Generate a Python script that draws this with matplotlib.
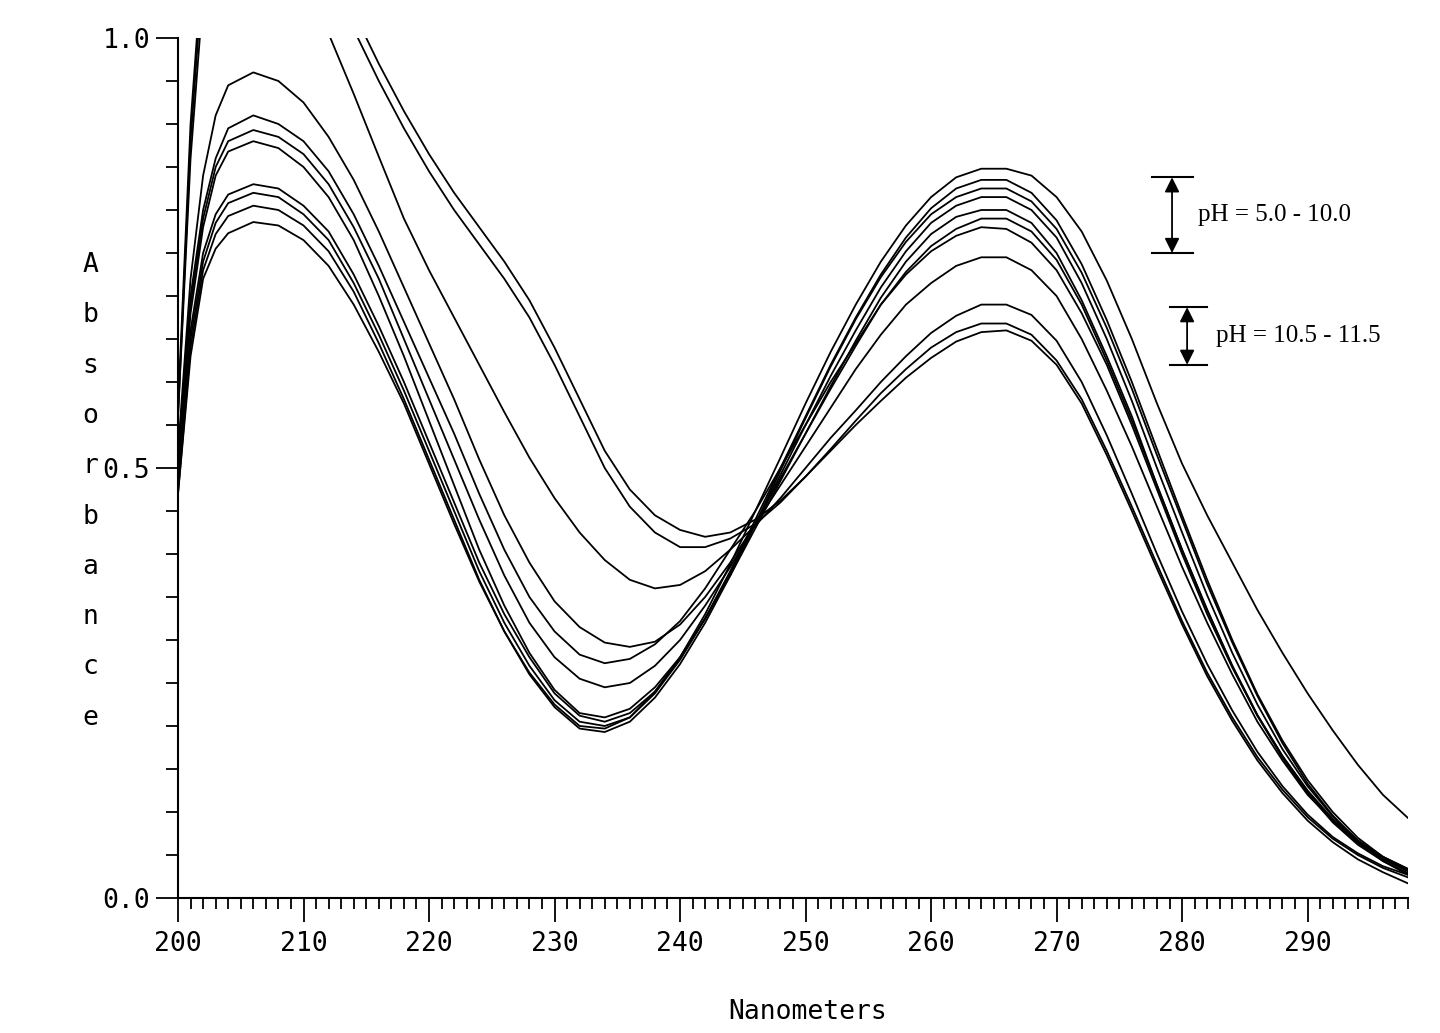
import matplotlib
matplotlib.use("Agg")
import matplotlib.pyplot as plt
from matplotlib.ticker import MultipleLocator

# ---------------- data ----------------
wavelength = [200, 201, 202, 203, 204, 206, 208, 210, 212, 214, 216, 218, 220, 222, 224,
              226, 228, 230, 232, 234, 236, 238, 240, 242, 244, 246, 248, 250, 252, 254,
              256, 258, 260, 262, 264, 266, 268, 270, 272, 274, 276, 278, 280, 282, 284,
              286, 288, 290, 292, 294, 296, 298]

# pH 5.0 - 10.0 group
curve_a1 = [.52, .72, .84, .91, .945, .96, .95, .925, .885, .835, .775, .71, .645, .58, .51,
            .445, .39, .345, .315, .297, .292, .298, .318, .35, .39, .435, .48, .525, .57, .615,
            .655, .69, .715, .735, .745, .745, .73, .70, .65, .59, .525, .455, .385, .32, .26,
            .205, .16, .12, .09, .065, .047, .033]
curve_a2 = [.51, .70, .80, .86, .895, .91, .90, .88, .845, .795, .735, .67, .605, .54, .47,
            .405, .35, .31, .283, .273, .278, .295, .322, .36, .405, .45, .50, .55, .60, .645,
            .69, .725, .752, .77, .78, .778, .762, .73, .68, .62, .55, .475, .40, .33, .268,
            .212, .165, .125, .092, .067, .048, .034]
curve_a3 = [.50, .69, .79, .85, .88, .893, .885, .865, .83, .78, .72, .65, .58, .51, .44,
            .375, .32, .28, .255, .245, .25, .27, .30, .34, .385, .435, .488, .54, .592, .642,
            .69, .728, .758, .778, .79, .79, .775, .742, .69, .625, .555, .48, .405, .335, .27,
            .213, .165, .124, .09, .064, .045, .031]
curve_a4 = [.49, .68, .78, .84, .868, .88, .872, .85, .815, .765, .70, .63, .555, .48, .405,
            .34, .285, .242, .215, .21, .22, .245, .28, .325, .375, .43, .485, .54, .595, .648,
            .698, .74, .772, .792, .80, .80, .785, .75, .695, .63, .56, .48, .405, .335, .27,
            .212, .163, .122, .088, .062, .043, .029]
curve_a5 = [.48, .66, .75, .795, .818, .83, .825, .805, .775, .725, .665, .60, .53, .46, .39,
            .33, .28, .238, .212, .205, .215, .24, .278, .325, .378, .435, .492, .55, .607, .66,
            .71, .752, .785, .805, .815, .815, .80, .768, .715, .65, .578, .50, .425, .352, .285,
            .225, .173, .13, .095, .067, .046, .032]
curve_a6 = [.48, .65, .74, .785, .808, .82, .815, .795, .765, .715, .655, .59, .52, .45, .38,
            .32, .27, .23, .205, .20, .21, .238, .277, .325, .38, .44, .50, .56, .62, .675,
            .725, .768, .802, .825, .835, .835, .82, .788, .737, .672, .60, .522, .445, .37, .30,
            .237, .183, .137, .10, .07, .048, .033]
curve_a7 = [.47, .64, .73, .772, .793, .805, .80, .782, .752, .705, .645, .58, .51, .44, .37,
            .31, .262, .225, .20, .197, .21, .24, .28, .33, .388, .45, .512, .575, .635, .69,
            .74, .782, .815, .838, .848, .848, .84, .815, .775, .718, .65, .575, .505, .445, .39,
            .335, .285, .238, .195, .155, .12, .093]
curve_a8 = [.47, .63, .72, .755, .773, .786, .782, .765, .735, .69, .635, .575, .505, .435, .368,
            .31, .26, .222, .197, .193, .205, .233, .272, .32, .375, .435, .497, .558, .618, .673,
            .722, .763, .795, .815, .825, .825, .81, .778, .727, .663, .592, .515, .44, .365, .297,
            .235, .18, .133, .096, .066, .043, .027]

# pH 10.5 - 11.5 group
curve_b1 = [.56, .86, 1.05, 1.15, 1.20, 1.22, 1.18, 1.10, 1.005, .935, .862, .79, .73, .675, .62,
            .565, .512, .465, .425, .393, .37, .36, .364, .38, .405, .433, .465, .50, .535, .567,
            .60, .63, .657, .677, .69, .69, .678, .648, .60, .538, .47, .40, .333, .272, .218,
            .17, .13, .097, .071, .052, .037, .027]
curve_b2 = [.56, .88, 1.08, 1.20, 1.26, 1.30, 1.27, 1.20, 1.11, 1.01, .95, .895, .845, .80, .76,
            .72, .675, .62, .56, .50, .455, .425, .408, .408, .418, .435, .46, .49, .522, .555,
            .587, .615, .64, .658, .668, .668, .655, .625, .58, .52, .455, .388, .322, .262, .21,
            .164, .126, .094, .069, .05, .035, .024]
curve_b3 = [.57, .90, 1.10, 1.22, 1.28, 1.32, 1.30, 1.23, 1.13, 1.03, .97, .915, .865, .82, .78,
            .74, .695, .64, .58, .52, .475, .445, .428, .42, .425, .44, .462, .49, .52, .55,
            .578, .605, .628, .647, .658, .66, .648, .62, .575, .515, .45, .383, .318, .258, .206,
            .16, .122, .09, .065, .045, .03, .017]

curves = [curve_a1, curve_a2, curve_a3, curve_a4, curve_a5, curve_a6, curve_a7, curve_a8,
          curve_b1, curve_b2, curve_b3]

x_ticks = [200, 210, 220, 230, 240, 250, 260, 270, 280, 290]
x_tick_labels = ["200", "210", "220", "230", "240", "250", "260", "270", "280", "290"]
y_ticks = [0.0, 0.5, 1.0]
y_tick_labels = ["0.0", "0.5", "1.0"]
x_label = "Nanometers"
y_label = "Absorbance"
note_upper = "pH = 5.0 - 10.0"
note_lower = "pH = 10.5 - 11.5"

# ---------------- figure ----------------
W, H = 1440, 1033
fig = plt.figure(figsize=(W / 100, H / 100), dpi=100)
fig.patch.set_facecolor("white")
ax = fig.add_axes([178 / W, (H - 898) / H, 1230 / W, 860 / H])

for c in curves:
    ax.plot(wavelength, c, color="black", lw=1.3, solid_joinstyle="round")

for side in ("top", "right"):
    ax.spines[side].set_visible(False)
for side in ("left", "bottom"):
    ax.spines[side].set_linewidth(1.5)

mono = "DejaVu Sans Mono"
ax.set_xticks(x_ticks)
ax.set_xticklabels(x_tick_labels, fontfamily=mono, fontsize=19)
ax.set_yticks(y_ticks)
ax.set_yticklabels(y_tick_labels, fontfamily=mono, fontsize=19)
ax.xaxis.set_minor_locator(MultipleLocator(1))
ax.yaxis.set_minor_locator(MultipleLocator(0.05))
ax.set_xlim(200, 298)
ax.set_ylim(0, 1.0)
ax.tick_params(axis="x", which="major", direction="out", length=17, width=1.3, pad=7)
ax.tick_params(axis="x", which="minor", direction="out", length=8, width=1.3)
ax.tick_params(axis="y", which="major", direction="out", length=16, width=1.3, pad=4)
ax.tick_params(axis="y", which="minor", direction="out", length=9, width=1.3)

# axis titles
fig.text(808 / W, 1 - 1012 / H, x_label, fontfamily=mono, fontsize=19,
         ha="center", va="center")
for i, ch in enumerate(y_label):
    fig.text(90 / W, 1 - (265 + i * 50.3) / H, ch, fontfamily=mono, fontsize=19,
             ha="center", va="center")

# pH range annotations
serif = "Liberation Serif"
def bracket(xc, x0, x1, ytop, ybot, xtext, text):
    ax.plot([x0, x1], [ytop, ytop], color="black", lw=1.5, clip_on=False)
    ax.plot([x0, x1], [ybot, ybot], color="black", lw=1.5, clip_on=False)
    ax.annotate("", xy=(xc, ybot), xytext=(xc, ytop),
                arrowprops=dict(arrowstyle="<|-|>", color="black", lw=1.3,
                                mutation_scale=22, shrinkA=0, shrinkB=0),
                annotation_clip=False)
    ax.text(xtext, (ytop + ybot) / 2, text, fontfamily=serif, fontsize=18,
            ha="left", va="center", clip_on=False)

bracket(279.2, 277.6, 280.9, 0.838, 0.750, 281.3, note_upper)
bracket(280.4, 279.0, 282.0, 0.687, 0.620, 282.7, note_lower)

fig.savefig("out.png", dpi=100, facecolor="white")
